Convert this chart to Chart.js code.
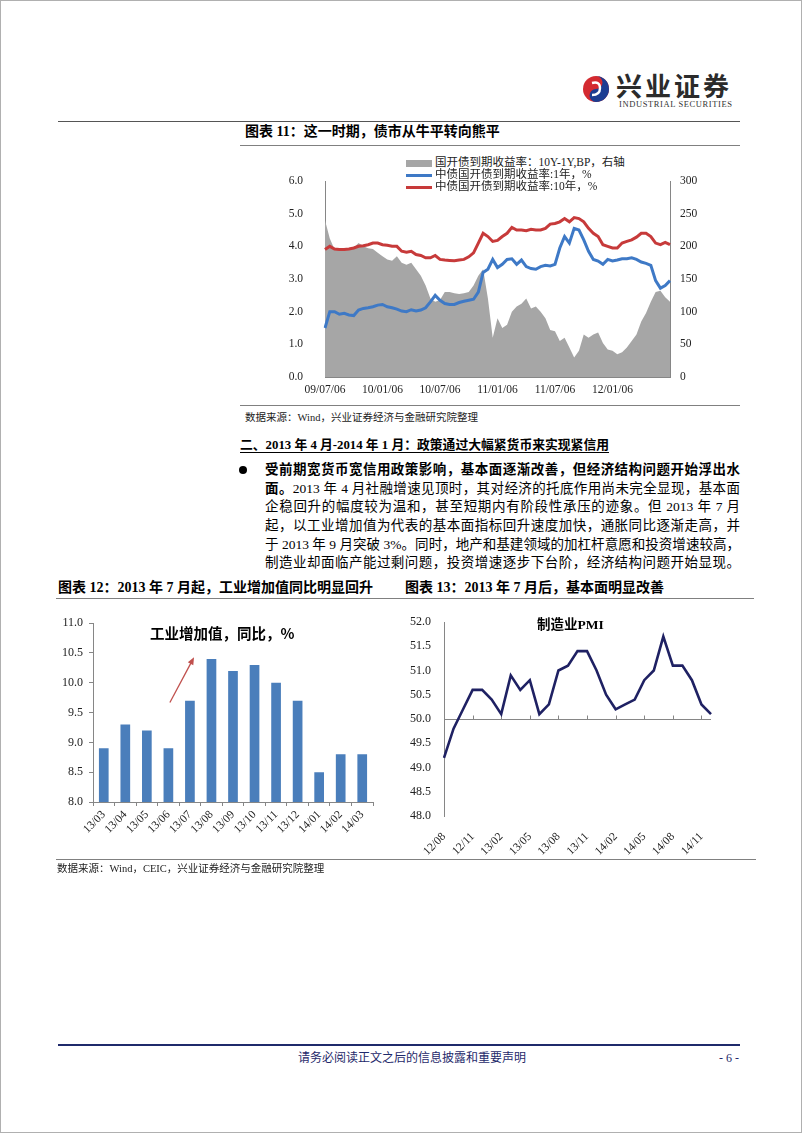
<!DOCTYPE html>
<html lang="zh-CN">
<head>
<meta charset="utf-8">
<script src="https://cdn.jsdelivr.net/npm/chart.js@4.4.1/dist/chart.umd.min.js"></script>
<style>
  body { margin: 0; background: #fff; }
  #page {
    position: relative; width: 802px; height: 1133px; overflow: hidden;
    font-family: "Liberation Serif", "Noto Sans CJK SC", serif; color: #000;
  }
  .abs { position: absolute; white-space: nowrap; }
  .rule { position: absolute; height: 0; border-top: 1px solid #808080; }
  .fig-title { font-size: 14px; font-weight: bold; line-height: 16px; }
  .source { font-size: 10.5px; line-height: 12px; color: #222; }
  .legend-row { position: absolute; left: 406px; font-size: 11.5px; line-height: 12px; color: #222; }
  .legend-row i { display: inline-block; width: 26px; margin-right: 3px; vertical-align: middle; }
  .para div { height: 18.7px; line-height: 18.7px; font-size: 13.5px; text-align: justify; text-align-last: justify; white-space: normal; }
  canvas { position: absolute; }
</style>
</head>
<body>
<div id="page">
  <div class="abs" style="left:0;top:0;width:800px;height:1131px;border:1px solid #b0b0b0;"></div>

  <!-- logo -->
  <svg class="abs" style="left:582px;top:75px" width="28" height="28" viewBox="0 0 28 28">
    <circle cx="14" cy="14" r="13" fill="#d42a30"/>
    <path d="M14 1 A13 13 0 0 1 14 27 A6.5 6.5 0 0 1 14 14 A6.5 6.5 0 0 0 14 1Z" fill="#1c3d92"/>
    <path d="M10 8 Q18 6 18 13 Q18 20 10 20" fill="none" stroke="#fff" stroke-width="2.4"/>
  </svg>
  <div class="abs" style="left:616px;top:70px;font-size:26px;font-weight:bold;letter-spacing:3px;color:#2b2b2b;font-family:'Noto Sans CJK SC';line-height:30px;">兴业证券</div>
  <div class="abs" style="left:619px;top:99px;font-size:8.5px;letter-spacing:0.6px;color:#333;line-height:10px;">INDUSTRIAL SECURITIES</div>
  <div class="rule" style="left:58px;top:121px;width:682px;border-color:#555;"></div>

  <!-- figure 11 -->
  <div class="abs fig-title" style="left:245px;top:124px;">图表 11：这一时期，债市从牛平转向熊平</div>
  <div class="rule" style="left:240px;top:145px;width:500px;"></div>
  <canvas id="c11" width="440" height="230" style="left:280px;top:170px;"></canvas>
  <div class="legend-row" style="top:156px;"><i style="height:7px;background:#a6a6a6;"></i>国开债到期收益率：10Y-1Y,BP，右轴</div>
  <div class="legend-row" style="top:168px;"><i style="height:3px;background:#3e79c6;"></i>中债国开债到期收益率:1年，%</div>
  <div class="legend-row" style="top:180px;"><i style="height:3px;background:#c73a3a;"></i>中债国开债到期收益率:10年，%</div>
  <div class="rule" style="left:240px;top:405px;width:500px;"></div>
  <div class="abs source" style="left:245px;top:412px;">数据来源：Wind，兴业证券经济与金融研究院整理</div>

  <!-- section -->
  <div class="abs" style="left:240px;top:436px;font-size:12.8px;font-weight:bold;line-height:18px;text-decoration:underline;text-underline-offset:3px;">二、2013 年 4 月-2014 年 1 月：政策通过大幅紧货币来实现紧信用</div>
  <div class="abs" style="left:239px;top:466px;width:8px;height:8px;border-radius:50%;background:#000;"></div>
  <div class="abs para" style="left:265px;top:461px;width:475px;">
    <div><b>受前期宽货币宽信用政策影响，基本面逐渐改善，但经济结构问题开始浮出水</b></div>
    <div><b>面。</b>2013 年 4 月社融增速见顶时，其对经济的托底作用尚未完全显现，基本面</div>
    <div>企稳回升的幅度较为温和，甚至短期内有阶段性承压的迹象。但 2013 年 7 月</div>
    <div>起，以工业增加值为代表的基本面指标回升速度加快，通胀同比逐渐走高，并</div>
    <div>于 2013 年 9 月突破 3%。同时，地产和基建领域的加杠杆意愿和投资增速较高，</div>
    <div>制造业却面临产能过剩问题，投资增速逐步下台阶，经济结构问题开始显现。</div>
  </div>

  <!-- figures 12 / 13 -->
  <div class="abs fig-title" style="left:58px;top:580px;">图表 12：2013 年 7 月起，工业增加值同比明显回升</div>
  <div class="abs fig-title" style="left:405px;top:580px;">图表 13：2013 年 7 月后，基本面明显改善</div>
  <div class="rule" style="left:56px;top:598px;width:698px;"></div>
  <canvas id="c12" width="340" height="250" style="left:50px;top:610px;"></canvas>
  <canvas id="c13" width="340" height="250" style="left:400px;top:610px;"></canvas>
  <div class="abs" style="left:150px;top:623px;font-size:14.5px;font-weight:bold;font-family:'Noto Sans CJK SC';line-height:20px;">工业增加值，同比，%</div>
  <div class="abs" style="left:537px;top:615px;font-size:13.5px;font-weight:bold;line-height:20px;">制造业PMI</div>
  <div class="rule" style="left:56px;top:859px;width:700px;"></div>
  <div class="abs source" style="left:57px;top:863px;">数据来源：Wind，CEIC，兴业证券经济与金融研究院整理</div>

  <!-- footer -->
  <div class="abs" style="left:58px;top:1044px;width:682px;height:2px;background:#1f2a6b;"></div>
  <div class="abs" style="left:298px;top:1051px;font-size:12px;line-height:14px;color:#1f2a6b;">请务必阅读正文之后的信息披露和重要声明</div>
  <div class="abs" style="left:719px;top:1051px;font-size:12px;line-height:14px;color:#1f2a6b;">- 6 -</div>
</div>

<script>
// 图表11：国开债收益率（半月频，读图估计）
const bondDates = [
  "09/07/06","09/07/21","09/08/06","09/08/21","09/09/06","09/09/21","09/10/06","09/10/21","09/11/06","09/11/21","09/12/06","09/12/21",
  "10/01/06","10/01/21","10/02/06","10/02/21","10/03/06","10/03/21","10/04/06","10/04/21","10/05/06","10/05/21","10/06/06","10/06/21",
  "10/07/06","10/07/21","10/08/06","10/08/21","10/09/06","10/09/21","10/10/06","10/10/21","10/11/06","10/11/21","10/12/06","10/12/21",
  "11/01/06","11/01/21","11/02/06","11/02/21","11/03/06","11/03/21","11/04/06","11/04/21","11/05/06","11/05/21","11/06/06","11/06/21",
  "11/07/06","11/07/21","11/08/06","11/08/21","11/09/06","11/09/21","11/10/06","11/10/21","11/11/06","11/11/21","11/12/06","11/12/21",
  "12/01/06","12/01/21","12/02/06","12/02/21","12/03/06","12/03/21","12/04/06","12/04/21","12/05/06","12/05/21","12/06/06","12/06/21",
  "12/07/06"
];
const bondTickLabels = ["09/07/06","10/01/06","10/07/06","11/01/06","11/07/06","12/01/06"];
const spreadBp = [
  240,212,195,196,194,195,198,205,200,197,196,190,
  185,180,178,185,175,172,175,165,155,140,120,115,
  118,130,130,128,127,128,130,140,155,165,120,60,
  90,75,80,100,108,112,120,105,108,100,90,72,
  70,55,60,45,30,40,65,60,65,68,52,42,
  40,35,38,45,55,65,85,98,115,130,132,122,
  115
];
const cdb1y = [
  1.50,2.00,2.00,1.92,1.95,1.90,1.88,2.05,2.10,2.12,2.15,2.20,
  2.22,2.15,2.12,2.08,2.02,2.00,2.06,2.02,2.05,2.12,2.30,2.50,
  2.35,2.25,2.22,2.22,2.28,2.32,2.35,2.38,2.60,3.20,3.30,3.60,
  3.35,3.45,3.60,3.62,3.45,3.58,3.38,3.32,3.30,3.38,3.42,3.40,
  3.45,3.95,4.30,4.10,4.55,4.50,4.20,3.85,3.60,3.55,3.45,3.60,
  3.55,3.58,3.62,3.62,3.65,3.60,3.52,3.48,3.42,2.95,2.72,2.80,
  2.95
];
const cdb10y = [
  3.90,4.00,3.92,3.90,3.90,3.92,3.95,4.00,4.02,4.05,4.10,4.10,
  4.05,4.03,4.00,4.00,3.85,3.82,3.85,3.75,3.72,3.65,3.65,3.72,
  3.60,3.58,3.57,3.56,3.58,3.60,3.68,3.80,4.10,4.40,4.30,4.15,
  4.18,4.30,4.40,4.58,4.50,4.50,4.48,4.52,4.50,4.50,4.55,4.68,
  4.70,4.75,4.85,4.75,4.88,4.85,4.75,4.55,4.40,4.30,4.05,4.00,
  3.95,3.95,4.10,4.15,4.20,4.28,4.40,4.40,4.30,4.10,4.05,4.12,
  4.05
];

// 图表12：工业增加值同比
const ipMonths = ["13/03","13/04","13/05","13/06","13/07","13/08","13/09","13/10","13/11","13/12","14/01","14/02","14/03"];
const ipValues = [8.9, 9.3, 9.2, 8.9, 9.7, 10.4, 10.2, 10.3, 10.0, 9.7, 8.5, 8.8, 8.8];
// 箭头起止点（类目序号, 数值）
const arrowFrom = [3.07, 9.67];
const arrowTo = [4.19, 10.43];

// 图表13：制造业PMI
const pmiMonths = [
  "12/08","12/09","12/10","12/11","12/12","13/01","13/02","13/03","13/04","13/05","13/06","13/07",
  "13/08","13/09","13/10","13/11","13/12","14/01","14/02","14/03","14/04","14/05","14/06","14/07",
  "14/08","14/09","14/10","14/11","14/12"
];
const pmiValues = [
  49.2, 49.8, 50.2, 50.6, 50.6, 50.4, 50.1, 50.9, 50.6, 50.8, 50.1, 50.3,
  51.0, 51.1, 51.4, 51.4, 51.0, 50.5, 50.2, 50.3, 50.4, 50.8, 51.0, 51.7,
  51.1, 51.1, 50.8, 50.3, 50.1
];
const pmiTickLabels = ["12/08","12/11","13/02","13/05","13/08","13/11","14/02","14/05","14/08","14/11"];

const axisColor = "#868686";
const tickFont = { family: "Liberation Serif", size: 12 };
const tickColor = "#222";

// 标签与轴线的间距用透明刻度线撑开，避免 ticks.padding 挤压绘图区上下边距
new Chart(document.getElementById("c11"), {
  type: "line",
  data: {
    labels: bondDates,
    datasets: [
      { label: "国开债到期收益率：10Y-1Y,BP，右轴", data: spreadBp, yAxisID: "y2", fill: "origin",
        backgroundColor: "#a6a6a6", borderWidth: 0, pointRadius: 0, tension: 0, order: 3 },
      { label: "中债国开债到期收益率:1年，%", data: cdb1y, yAxisID: "y", fill: false,
        borderColor: "#3e79c6", borderWidth: 3, pointRadius: 0, tension: 0, order: 2 },
      { label: "中债国开债到期收益率:10年，%", data: cdb10y, yAxisID: "y", fill: false,
        borderColor: "#c73a3a", borderWidth: 3, pointRadius: 0, tension: 0, order: 1 }
    ]
  },
  options: {
    responsive: false,
    animation: false,
    layout: { padding: { top: 11 } },
    plugins: { legend: { display: false }, tooltip: { enabled: false } },
    scales: {
      x: {
        grid: { display: true, drawOnChartArea: false, drawTicks: true, tickLength: 5, tickColor: "rgba(0,0,0,0)" },
        border: { color: axisColor },
        ticks: {
          autoSkip: false, maxRotation: 0, padding: 1, font: { family: "Liberation Serif", size: 11.5 }, color: tickColor,
          callback: (v, i) => bondTickLabels.includes(bondDates[i]) ? bondDates[i] : ""
        },
        afterFit: s => { s.height = 23; }
      },
      y: {
        position: "left", min: 0, max: 6,
        grid: { display: true, drawOnChartArea: false, drawTicks: true, tickLength: 20, tickColor: "rgba(0,0,0,0)" },
        border: { color: axisColor },
        ticks: { stepSize: 1, padding: 2, font: { family: "Liberation Serif", size: 11.5 }, color: tickColor, callback: v => v.toFixed(1) },
        afterFit: s => { s.width = 45; }
      },
      y2: {
        position: "right", min: 0, max: 300,
        grid: { display: true, drawOnChartArea: false, drawTicks: true, tickLength: 8, tickColor: "rgba(0,0,0,0)" },
        border: { color: axisColor },
        ticks: { stepSize: 50, padding: 2, font: { family: "Liberation Serif", size: 11.5 }, color: tickColor },
        afterFit: s => { s.width = 50; }
      }
    }
  }
});

// 图表12 红色箭头
const arrowPlugin = {
  id: "ipArrow",
  afterDatasetsDraw(chart) {
    const { ctx, scales: { x, y } } = chart;
    const x1 = x.getPixelForValue(arrowFrom[0]), y1 = y.getPixelForValue(arrowFrom[1]);
    const x2 = x.getPixelForValue(arrowTo[0]), y2 = y.getPixelForValue(arrowTo[1]);
    const ang = Math.atan2(y2 - y1, x2 - x1);
    ctx.save();
    ctx.strokeStyle = "#c0504d";
    ctx.fillStyle = "#c0504d";
    ctx.lineWidth = 1.3;
    ctx.beginPath();
    ctx.moveTo(x1, y1);
    ctx.lineTo(x2 - 5 * Math.cos(ang), y2 - 5 * Math.sin(ang));
    ctx.stroke();
    ctx.beginPath();
    ctx.moveTo(x2, y2);
    ctx.lineTo(x2 - 8 * Math.cos(ang - 0.4), y2 - 8 * Math.sin(ang - 0.4));
    ctx.lineTo(x2 - 8 * Math.cos(ang + 0.4), y2 - 8 * Math.sin(ang + 0.4));
    ctx.closePath();
    ctx.fill();
    ctx.restore();
  }
};

new Chart(document.getElementById("c12"), {
  type: "bar",
  data: {
    labels: ipMonths,
    datasets: [{ label: "工业增加值，同比，%", data: ipValues, backgroundColor: "#4a7ebb",
      barPercentage: 0.45, categoryPercentage: 1 }]
  },
  options: {
    responsive: false,
    animation: false,
    layout: { padding: { top: 12, right: 17 } },
    plugins: { legend: { display: false }, tooltip: { enabled: false } },
    scales: {
      x: {
        grid: { display: true, drawOnChartArea: false, drawTicks: true, tickLength: 4, color: axisColor },
        border: { color: axisColor },
        ticks: { autoSkip: false, minRotation: 45, maxRotation: 45, padding: 2, font: { family: "Liberation Serif", size: 11.5 }, color: tickColor },
        afterFit: s => { s.height = 58; }
      },
      y: {
        min: 8, max: 11,
        grid: { display: true, drawOnChartArea: false, drawTicks: true, tickLength: 4, color: axisColor },
        border: { color: axisColor },
        ticks: { stepSize: 0.5, padding: 6, font: tickFont, color: tickColor, callback: v => v.toFixed(1) },
        afterFit: s => { s.width = 43; }
      }
    }
  },
  plugins: [arrowPlugin]
});

// 图表13 50 荣枯线横轴
const axis50Plugin = {
  id: "axis50",
  beforeDatasetsDraw(chart) {
    const { ctx, chartArea, scales: { x, y } } = chart;
    const yp = Math.round(y.getPixelForValue(50)) + 0.5;
    ctx.save();
    ctx.strokeStyle = axisColor;
    ctx.lineWidth = 1;
    ctx.beginPath();
    ctx.moveTo(chartArea.left, yp);
    ctx.lineTo(chartArea.right, yp);
    pmiMonths.forEach((m, i) => {
      if (i > 0 && pmiTickLabels.includes(m)) {
        const xp = Math.round(x.getPixelForValue(i)) + 0.5;
        ctx.moveTo(xp, yp);
        ctx.lineTo(xp, yp - 4);
      }
    });
    ctx.stroke();
    ctx.restore();
  }
};

new Chart(document.getElementById("c13"), {
  type: "line",
  data: {
    labels: pmiMonths,
    datasets: [{ label: "制造业PMI", data: pmiValues, borderColor: "#1f2163", borderWidth: 2.6,
      pointRadius: 0, tension: 0, fill: false }]
  },
  options: {
    responsive: false,
    animation: false,
    layout: { padding: { top: 12, right: 29 } },
    plugins: { legend: { display: false }, tooltip: { enabled: false } },
    scales: {
      x: {
        grid: { display: false },
        border: { display: false },
        ticks: {
          autoSkip: false, minRotation: 45, maxRotation: 45, padding: 6, font: { family: "Liberation Serif", size: 11.5 }, color: tickColor,
          callback: (v, i) => pmiTickLabels.includes(pmiMonths[i]) ? pmiMonths[i] : ""
        },
        afterFit: s => { s.height = 44; }
      },
      y: {
        min: 48, max: 52,
        grid: { display: true, drawOnChartArea: false, drawTicks: true, tickLength: 11, tickColor: "rgba(0,0,0,0)" },
        border: { color: axisColor },
        ticks: { stepSize: 0.5, padding: 2, font: tickFont, color: tickColor, callback: v => v.toFixed(1) },
        afterFit: s => { s.width = 44; }
      }
    }
  },
  plugins: [axis50Plugin]
});
</script>
</body>
</html>
